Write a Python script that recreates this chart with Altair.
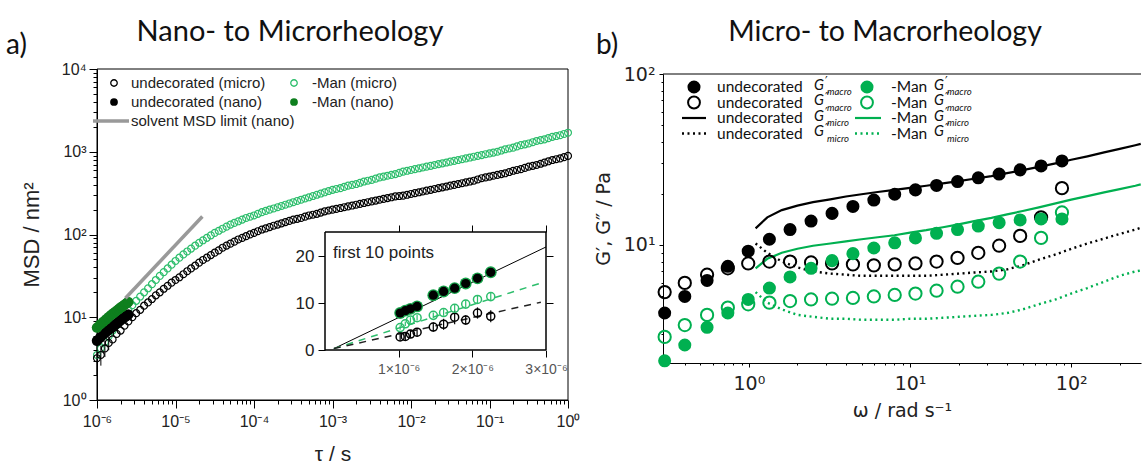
import altair as alt
import pandas as pd

# ---------------- panel a) : MSD vs lag time ----------------
TAU_MICRO = [
    1.00e-6, 1.12e-6, 1.26e-6, 1.41e-6, 1.58e-6, 1.78e-6, 2.00e-6, 2.24e-6, 2.51e-6, 2.82e-6,
    3.16e-6, 3.55e-6, 3.98e-6, 4.47e-6, 5.01e-6, 5.62e-6, 6.31e-6, 7.08e-6, 7.94e-6, 8.91e-6,
    1.00e-5, 1.12e-5, 1.26e-5, 1.41e-5, 1.58e-5, 1.78e-5, 2.00e-5, 2.24e-5, 2.51e-5, 2.82e-5,
    3.16e-5, 3.55e-5, 3.98e-5, 4.47e-5, 5.01e-5, 5.62e-5, 6.31e-5, 7.08e-5, 7.94e-5, 8.91e-5,
    1.00e-4, 1.12e-4, 1.26e-4, 1.41e-4, 1.58e-4, 1.78e-4, 2.00e-4, 2.24e-4, 2.51e-4, 2.82e-4,
    3.16e-4, 3.55e-4, 3.98e-4, 4.47e-4, 5.01e-4, 5.62e-4, 6.31e-4, 7.08e-4, 7.94e-4, 8.91e-4,
    1.00e-3, 1.12e-3, 1.26e-3, 1.41e-3, 1.58e-3, 1.78e-3, 2.00e-3, 2.24e-3, 2.51e-3, 2.82e-3,
    3.16e-3, 3.55e-3, 3.98e-3, 4.47e-3, 5.01e-3, 5.62e-3, 6.31e-3, 7.08e-3, 7.94e-3, 8.91e-3,
    1.00e-2, 1.12e-2, 1.26e-2, 1.41e-2, 1.58e-2, 1.78e-2, 2.00e-2, 2.24e-2, 2.51e-2, 2.82e-2,
    3.16e-2, 3.55e-2, 3.98e-2, 4.47e-2, 5.01e-2, 5.62e-2, 6.31e-2, 7.08e-2, 7.94e-2, 8.91e-2,
    1.00e-1, 1.12e-1, 1.26e-1, 1.41e-1, 1.58e-1, 1.78e-1, 2.00e-1, 2.24e-1, 2.51e-1, 2.82e-1,
    3.16e-1, 3.55e-1, 3.98e-1, 4.47e-1, 5.01e-1, 5.62e-1, 6.31e-1, 7.08e-1, 7.94e-1, 8.91e-1,
    1.00,
]
MSD_MICRO_UNDECORATED = [
    3.2, 3.5, 4.2, 4.9, 5.4, 6.3, 6.9, 7.9, 8.9, 10.0,
    11.2, 12.3, 13.8, 15.1, 16.6, 18.4, 20.0, 22.1, 24.0, 26.2,
    28.2, 30.4, 33.1, 36.0, 38.9, 42.0, 45.7, 49.2, 52.5, 56.4,
    60.3, 64.3, 69.2, 73.5, 77.6, 82.0, 87.1, 91.0, 95.5, 100.2,
    104.7, 109.5, 114.8, 118.6, 123.0, 127.7, 131.8, 136.4, 141.3, 146.2,
    151.4, 154.6, 158.5, 164.3, 169.8, 173.5, 177.8, 184.0, 190.5, 195.0,
    199.5, 204.0, 208.9, 213.8, 218.8, 224.0, 229.1, 234.5, 239.9, 245.5,
    251.2, 257.0, 263.0, 269.2, 275.4, 281.8, 288.4, 291.7, 295.1, 302.0,
    309.0, 316.2, 323.6, 331.1, 338.8, 346.7, 354.8, 363.1, 371.5, 380.2,
    389.0, 398.1, 407.4, 416.9, 426.6, 436.5, 446.7, 462.3, 478.6, 489.8,
    501.2, 512.9, 524.8, 537.0, 549.5, 568.9, 588.8, 602.6, 616.6, 638.3,
    660.7, 676.1, 691.8, 716.1, 741.3, 767.4, 794.3, 812.8, 831.8, 861.0,
    891.3,
]
MSD_MICRO_MAN = [
    3.5, 4.2, 5.0, 5.9, 6.9, 8.0, 9.3, 10.8, 12.3, 14.0,
    15.8, 17.8, 20.0, 22.4, 25.1, 28.2, 31.6, 35.1, 38.9, 43.2,
    47.9, 52.5, 57.5, 62.4, 67.6, 73.3, 79.4, 85.1, 91.2, 97.7,
    104.7, 110.9, 117.5, 124.5, 131.8, 138.0, 144.5, 151.4, 158.5, 164.1,
    169.8, 177.8, 186.2, 192.8, 199.5, 206.5, 213.8, 221.3, 229.1, 237.1,
    245.5, 254.1, 263.0, 272.3, 281.8, 291.7, 302.0, 312.6, 323.6, 335.0,
    346.7, 354.8, 363.1, 375.8, 389.0, 398.1, 407.4, 421.7, 436.5, 446.7,
    457.1, 473.2, 489.8, 501.2, 512.9, 524.8, 537.0, 555.9, 575.4, 588.8,
    602.6, 616.6, 631.0, 645.7, 660.7, 676.1, 691.8, 707.9, 724.4, 741.3,
    758.6, 776.2, 794.3, 812.8, 831.8, 851.1, 871.0, 891.3, 912.0, 933.3,
    955.0, 977.2, 1000.0, 1035.0, 1072.0, 1096.0, 1122.0, 1161.0, 1202.0, 1230.0,
    1259.0, 1303.0, 1349.0, 1380.0, 1413.0, 1462.0, 1514.0, 1549.0, 1585.0, 1641.0,
    1698.0,
]
ERR_TAU = [1.00e-6, 1.12e-6, 1.26e-6, 1.41e-6]
ERR_LO = [2.0, 2.6, 3.3, 4.0]
ERR_HI = [4.6, 4.5, 5.2, 5.8]

TAU_NANO = [1.0e-6, 1.1e-6, 1.2e-6, 1.3e-6, 1.4e-6, 1.5e-6, 1.6e-6, 1.7e-6,
            1.8e-6, 1.9e-6, 2.0e-6, 2.1e-6, 2.2e-6, 2.3e-6, 2.4e-6, 2.5e-6]
MSD_NANO_UNDECORATED = [5.2, 5.7, 6.2, 6.6, 7.0, 7.4, 7.8, 8.2, 8.5, 8.9, 9.2, 9.6, 9.9, 10.2, 10.5, 10.8]
MSD_NANO_MAN = [7.5, 8.2, 8.8, 9.4, 10.0, 10.6, 11.1, 11.6, 12.1, 12.6, 13.1, 13.5, 14.0, 14.4, 14.9, 15.3]

SOLVENT_TAU = [2.3e-6, 2.2e-5]
SOLVENT_MSD = [17.0, 165.0]

# inset "first 10 points"
INSET_TAU = [1.02e-6, 1.09e-6, 1.16e-6, 1.25e-6, 1.47e-6, 1.61e-6, 1.76e-6, 1.91e-6, 2.07e-6, 2.25e-6]
INSET_NANO = [7.9, 8.4, 8.8, 9.3, 11.7, 12.5, 13.2, 14.2, 15.3, 16.6]
INSET_MICRO_UNDEC = [2.8, 2.9, 3.4, 3.8, 4.9, 5.5, 7.0, 6.4, 7.9, 7.2]
INSET_MICRO_UNDEC_ERR = [0.8, 0.9, 0.8, 0.9, 1.0, 1.2, 1.5, 1.0, 1.2, 1.3]
INSET_MICRO_MAN = [4.8, 5.6, 6.4, 6.9, 7.4, 8.0, 8.9, 9.8, 10.8, 11.4]
INSET_MICRO_MAN_ERR = [0.5, 0.5, 0.6, 0.6, 0.6, 0.7, 0.7, 0.8, 0.8, 0.8]
FIT_TAU = [0.12e-6, 3.0e-6]
FIT_NANO = [0.3, 22.0]
FIT_TAU_DASH = [0.12e-6, 2.93e-6]
FIT_MICRO_MAN = [0.3, 14.3]
FIT_MICRO_UNDEC = [0.3, 10.2]

# ---------------- panel b) : G', G'' vs omega ----------------
OMEGA_MACRO = [0.30, 0.40, 0.55, 0.74, 0.99, 1.34, 1.80, 2.43, 3.28, 4.42,
               5.96, 8.03, 10.8, 14.6, 19.7, 26.5, 35.7, 48.2, 65.0, 87.6]
GP_MACRO_UNDEC = [4.0, 5.0, 6.2, 7.5, 9.2, 10.8, 12.3, 13.8, 15.3, 16.8,
                  18.3, 19.8, 21.0, 22.3, 23.5, 24.7, 26.0, 27.5, 29.0, 31.0]
GPP_MACRO_UNDEC = [5.3, 6.0, 6.7, 7.3, 7.8, 8.0, 8.0, 7.9, 7.8, 7.7,
                   7.6, 7.7, 7.8, 8.0, 8.4, 9.0, 9.9, 11.3, 14.5, 21.5]
GP_MACRO_MAN = [2.1, 2.6, 3.3, 4.0, 4.8, 5.6, 6.5, 7.3, 8.1, 8.9,
                9.6, 10.3, 11.0, 11.7, 12.3, 12.9, 13.5, 14.0, 14.2, 14.2]
GPP_MACRO_MAN = [2.9, 3.4, 3.9, 4.3, 4.5, 4.6, 4.7, 4.8, 4.85, 4.9,
                 5.0, 5.1, 5.2, 5.4, 5.7, 6.1, 6.8, 8.0, 11.0, 15.5]

OMEGA_MICRO = [1.1, 1.3, 1.6, 2.0, 2.5, 3.2, 4.0, 5.0, 6.3, 8.0, 10.0, 12.6, 16.0,
               20.0, 25.0, 32.0, 40.0, 50.0, 63.0, 80.0, 100.0, 126.0, 160.0, 200.0, 250.0, 270.0]
GP_MICRO_UNDEC = [12.5, 14.5, 16.0, 17.0, 17.8, 18.5, 19.2, 19.8, 20.4, 21.0, 21.6, 22.2, 22.9,
                  23.6, 24.4, 25.3, 26.3, 27.4, 28.6, 30.0, 31.5, 33.0, 34.8, 36.5, 38.3, 39.0]
GP_MICRO_MAN = [7.3, 8.3, 9.0, 9.5, 9.9, 10.2, 10.5, 10.8, 11.1, 11.4, 11.8, 12.2, 12.7,
                13.2, 13.8, 14.4, 15.1, 15.8, 16.6, 17.5, 18.4, 19.3, 20.3, 21.2, 22.2, 22.6]
GPP_MICRO_UNDEC = [10.2, 9.0, 8.0, 7.4, 7.0, 6.8, 6.7, 6.6, 6.6, 6.6, 6.6, 6.6, 6.7,
                   6.8, 6.9, 7.0, 7.2, 7.6, 8.2, 8.8, 9.5, 10.2, 10.9, 11.6, 12.3, 12.6]
GPP_MICRO_MAN = [5.3, 4.6, 4.2, 3.9, 3.8, 3.7, 3.7, 3.65, 3.65, 3.65, 3.7, 3.7, 3.75,
                 3.8, 3.85, 3.9, 4.0, 4.2, 4.5, 4.8, 5.2, 5.6, 6.1, 6.6, 7.0, 7.1]

# ---------------- layout (canvas pixels) ----------------
W, H = 1142, 468
LX0, LX1, LY0, LY1 = 97, 568, 400, 69      # panel a plot area
IX0, IX1, IY0, IY1 = 325, 546, 350, 232    # inset
RX0, RX1, RY0, RY1 = 663, 1141, 363, 74    # panel b plot area

FA = "Liberation Sans"
FM = "DejaVu Sans"
FT = "Lato"
GREEN_OPEN = "#2DBE6C"
GREEN_DARK = "#0E7F1E"
GREEN_B = "#00B050"

SUP = str.maketrans("-0123456789", "⁻⁰¹²³⁴⁵⁶⁷⁸⁹")


def pow10(e):
    return "10" + str(e).translate(SUP)


def log_label_expr(exps):
    s = ""
    for e in exps:
        s += f"abs(log(datum.value)/LN10 - ({e})) < 0.01 ? '{pow10(e)}' : "
    return s + "''"


MAJOR_TEST = "abs(log(datum.value)/LN10 - round(log(datum.value)/LN10)) < 0.01"


def log_ticks(e0, e1, lo, hi):
    out = []
    for e in range(e0, e1 + 1):
        for m in range(1, 10):
            v = m * 10.0 ** e
            if lo * 0.999 <= v <= hi * 1.001:
                out.append(v)
    return out


def cond_tick(major, minor):
    return {"condition": {"test": MAJOR_TEST, "value": major}, "value": minor}


BASE_AX = dict(grid=False, labelOverlap=False, labelFlush=False, tickColor="black",
               domainColor="black", tickWidth=1)

# panel a scales / axes
SX_A = alt.Scale(type="log", domain=[1e-6, 1.0], range=[LX0, LX1], nice=False)
SY_A = alt.Scale(type="log", domain=[1.0, 1e4], range=[LY0, LY1], nice=False)
AX_A = alt.Axis(orient="bottom", offset=LY0 - H, values=log_ticks(-6, 0, 1e-6, 1.0),
                labelExpr=log_label_expr(range(-6, 1)), tickSize=cond_tick(8, 4),
                labelFont=FA, labelFontSize=16, labelColor="#222", labelPadding=5,
                title="τ / s", titleFont=FA, titleFontSize=21, titleFontWeight="normal",
                titleColor="#222", titlePadding=14, **BASE_AX)
AY_A = alt.Axis(orient="left", offset=-LX0, values=log_ticks(0, 4, 1.0, 1e4),
                labelExpr=log_label_expr(range(0, 5)), tickSize=cond_tick(8, 4),
                labelFont=FA, labelFontSize=16, labelColor="#222", labelPadding=3,
                title="MSD / nm²", titleFont=FA, titleFontSize=22, titleFontWeight="normal",
                titleColor="#222", titlePadding=18, **BASE_AX)


def enc_a(xf, yf):
    return dict(x=alt.X(xf, type="quantitative", scale=SX_A, axis=AX_A),
                y=alt.Y(yf, type="quantitative", scale=SY_A, axis=AY_A))


df_micro = pd.DataFrame({"tau": TAU_MICRO, "undec": MSD_MICRO_UNDECORATED, "man": MSD_MICRO_MAN})
df_nano = pd.DataFrame({"tau": TAU_NANO, "undec": MSD_NANO_UNDECORATED, "man": MSD_NANO_MAN})
df_err = pd.DataFrame({"tau": ERR_TAU, "lo": ERR_LO, "hi": ERR_HI})
df_solv = pd.DataFrame({"tau": SOLVENT_TAU, "msd": SOLVENT_MSD})
df_frame_a = pd.DataFrame({"x0": [1e-6], "x1": [1.0], "y0": [1.0], "y1": [1e4]})

frame_a = alt.Chart(df_frame_a).mark_rect(fill="transparent", stroke="black", strokeWidth=1).encode(
    x2="x1:Q", y2="y1:Q", **enc_a("x0", "y0"))
solvent = alt.Chart(df_solv).mark_line(color="#999999", strokeWidth=3.5).encode(**enc_a("tau", "msd"))
err_a = alt.Chart(df_err).mark_rule(color="black", strokeWidth=1).encode(y2="hi:Q", **enc_a("tau", "lo"))
micro_man = alt.Chart(df_micro).mark_point(shape="circle", filled=False, color=GREEN_OPEN, size=48,
                                            strokeWidth=1.2, opacity=1).encode(**enc_a("tau", "man"))
micro_undec = alt.Chart(df_micro).mark_point(shape="circle", filled=False, color="black", size=48,
                                              strokeWidth=1.2, opacity=1).encode(**enc_a("tau", "undec"))
nano_undec = alt.Chart(df_nano).mark_point(shape="circle", filled=True, color="black", size=110,
                                            opacity=1).encode(**enc_a("tau", "undec"))
nano_man = alt.Chart(df_nano).mark_point(shape="circle", filled=True, color=GREEN_DARK, size=110,
                                          opacity=1).encode(**enc_a("tau", "man"))
panel_a = alt.layer(frame_a, micro_man, micro_undec, err_a, nano_undec, nano_man, solvent)

# inset scales / axes
SX_I = alt.Scale(type="linear", domain=[0.0, 3e-6], range=[IX0, IX1], nice=False, zero=False)
SY_I = alt.Scale(type="linear", domain=[0.0, 25.2], range=[IY0, IY1], nice=False, zero=False)
AX_I = alt.Axis(orient="bottom", offset=IY0 - H, values=[1e-6, 2e-6, 3e-6],
                labelExpr="format(datum.value*1000000, '.0f') + '×10⁻⁶'", tickSize=7,
                labelFont=FA, labelFontSize=14, labelColor="#555", labelPadding=5, domain=False,
                title=None, grid=False, labelOverlap=False, labelFlush=False, tickColor="black")
AY_I = alt.Axis(orient="left", offset=-IX0, values=[0, 10, 20], tickSize=7,
                labelFont=FA, labelFontSize=17, labelColor="#222", labelPadding=4, domain=False,
                title=None, grid=False, labelOverlap=False, tickColor="black")
AX_I2 = alt.Axis(orient="top", offset=-IY1, values=[1e-6, 2e-6, 3e-6], tickSize=7, labels=False,
                 domain=False, title=None, grid=False, tickColor="black")
AY_I2 = alt.Axis(orient="right", offset=IX1 - W, values=[10, 20], tickSize=7, labels=False,
                 domain=False, title=None, grid=False, tickColor="black")


def enc_i(xf, yf):
    return dict(x=alt.X(xf, type="quantitative", scale=SX_I, axis=AX_I),
                y=alt.Y(yf, type="quantitative", scale=SY_I, axis=AY_I))


df_inset = pd.DataFrame({
    "tau": INSET_TAU, "nano": INSET_NANO,
    "undec": INSET_MICRO_UNDEC, "undec_err": INSET_MICRO_UNDEC_ERR,
    "man": INSET_MICRO_MAN, "man_err": INSET_MICRO_MAN_ERR,
})
df_fit = pd.DataFrame({"tau": FIT_TAU, "nano": FIT_NANO})
df_fit_d = pd.DataFrame({"tau": FIT_TAU_DASH, "man": FIT_MICRO_MAN, "undec": FIT_MICRO_UNDEC})
df_frame_i = pd.DataFrame({"x0": [0.0], "x1": [3e-6], "y0": [0.0], "y1": [25.2]})

frame_i = alt.Chart(df_frame_i).mark_rect(fill="white", stroke="black", strokeWidth=1).encode(
    x2="x1:Q", y2="y1:Q", **enc_i("x0", "y0"))
fit_nano = alt.Chart(df_fit).mark_line(color="black", strokeWidth=1).encode(**enc_i("tau", "nano"))
fit_man = alt.Chart(df_fit_d).mark_line(color=GREEN_OPEN, strokeWidth=1.5, strokeDash=[7, 6]).encode(
    **enc_i("tau", "man"))
fit_undec = alt.Chart(df_fit_d).mark_line(color="#222", strokeWidth=1.5, strokeDash=[7, 6]).encode(
    **enc_i("tau", "undec"))
err_i_u = alt.Chart(df_inset).transform_calculate(
    lo="datum.undec - datum.undec_err", hi="datum.undec + datum.undec_err"
).mark_rule(color="black", strokeWidth=1.2).encode(y2="hi:Q", **enc_i("tau", "lo"))
err_i_m = alt.Chart(df_inset).transform_calculate(
    lo="datum.man - datum.man_err", hi="datum.man + datum.man_err"
).mark_rule(color=GREEN_OPEN, strokeWidth=1.2).encode(y2="hi:Q", **enc_i("tau", "lo"))
pts_i_u = alt.Chart(df_inset).mark_point(shape="circle", filled=False, color="black", size=65,
                                          strokeWidth=1.5, opacity=1).encode(**enc_i("tau", "undec"))
pts_i_m = alt.Chart(df_inset).mark_point(shape="circle", filled=False, color=GREEN_OPEN, size=65,
                                          strokeWidth=1.5, opacity=1).encode(**enc_i("tau", "man"))
pts_i_ng = alt.Chart(df_inset).mark_point(shape="circle", filled=True, color="#17A34A", size=140,
                                           opacity=1).encode(**enc_i("tau", "nano"))
pts_i_nb = alt.Chart(df_inset).mark_point(shape="circle", filled=True, color="black", size=85,
                                           opacity=1).encode(**enc_i("tau", "nano"))
inset_a = alt.layer(frame_i, fit_nano, fit_man, fit_undec, err_i_u, err_i_m, pts_i_u, pts_i_m,
                    pts_i_ng, pts_i_nb)
inset_b = alt.Chart(df_frame_i).mark_rect(fill="transparent", stroke="black", strokeWidth=1).encode(
    x=alt.X("x0:Q", scale=SX_I, axis=AX_I2), x2="x1:Q",
    y=alt.Y("y0:Q", scale=SY_I, axis=AY_I2), y2="y1:Q")

# panel b scales / axes
SX_B = alt.Scale(type="log", domain=[0.293, 271.0], range=[RX0, RX1], nice=False)
SY_B = alt.Scale(type="log", domain=[2.04, 100.0], range=[RY0, RY1], nice=False)
AX_B = alt.Axis(orient="bottom", offset=RY0 - H, values=log_ticks(-1, 2, 0.293, 271.0),
                labelExpr=log_label_expr(range(0, 3)), tickSize=cond_tick(4, 2),
                labelFont=FM, labelFontSize=19, labelColor="#222", labelPadding=7,
                title="ω / rad s⁻¹", titleFont=FM, titleFontSize=19, titleFontWeight="normal",
                titleColor="#222", titlePadding=8, **BASE_AX)
AY_B = alt.Axis(orient="left", offset=-RX0, values=log_ticks(0, 2, 2.04, 100.0),
                labelExpr=log_label_expr(range(1, 3)), tickSize=cond_tick(4, 2),
                labelFont=FM, labelFontSize=19, labelColor="#222", labelPadding=4,
                title="G′, G″ / Pa", titleFont=FM, titleFontSize=19, titleFontWeight="normal",
                titleColor="#222", titlePadding=10, **BASE_AX)


def enc_b(xf, yf):
    return dict(x=alt.X(xf, type="quantitative", scale=SX_B, axis=AX_B),
                y=alt.Y(yf, type="quantitative", scale=SY_B, axis=AY_B))


df_macro = pd.DataFrame({"w": OMEGA_MACRO, "gp_u": GP_MACRO_UNDEC, "gpp_u": GPP_MACRO_UNDEC,
                         "gp_m": GP_MACRO_MAN, "gpp_m": GPP_MACRO_MAN})
df_micro_b = pd.DataFrame({"w": OMEGA_MICRO, "gp_u": GP_MICRO_UNDEC, "gpp_u": GPP_MICRO_UNDEC,
                           "gp_m": GP_MICRO_MAN, "gpp_m": GPP_MICRO_MAN})
df_top_b = pd.DataFrame({"x0": [0.293], "x1": [271.0], "y0": [100.0]})

top_b = alt.Chart(df_top_b).mark_rule(color="black", strokeWidth=1).encode(x2="x1:Q", **enc_b("x0", "y0"))
ln_gp_u = alt.Chart(df_micro_b).mark_line(color="black", strokeWidth=2.2).encode(**enc_b("w", "gp_u"))
ln_gp_m = alt.Chart(df_micro_b).mark_line(color=GREEN_B, strokeWidth=2.2).encode(**enc_b("w", "gp_m"))
ln_gpp_u = alt.Chart(df_micro_b).mark_line(color="black", strokeWidth=2.4, strokeDash=[2, 3.5]).encode(
    **enc_b("w", "gpp_u"))
ln_gpp_m = alt.Chart(df_micro_b).mark_line(color=GREEN_B, strokeWidth=2.4, strokeDash=[2, 3.5]).encode(
    **enc_b("w", "gpp_m"))
pt_gp_u = alt.Chart(df_macro).mark_point(shape="circle", filled=True, color="black", size=170,
                                          opacity=1).encode(**enc_b("w", "gp_u"))
pt_gpp_u = alt.Chart(df_macro).mark_point(shape="circle", filled=False, color="black", size=150,
                                           strokeWidth=2, opacity=1).encode(**enc_b("w", "gpp_u"))
pt_gp_m = alt.Chart(df_macro).mark_point(shape="circle", filled=True, color=GREEN_B, size=170,
                                          opacity=1).encode(**enc_b("w", "gp_m"))
pt_gpp_m = alt.Chart(df_macro).mark_point(shape="circle", filled=False, color=GREEN_B, size=150,
                                           strokeWidth=2, opacity=1).encode(**enc_b("w", "gpp_m"))
panel_b = alt.layer(top_b, ln_gpp_u, ln_gpp_m, ln_gp_u, ln_gp_m, pt_gpp_u, pt_gp_u, pt_gpp_m, pt_gp_m)

# ---------------- annotations (titles, legends) ----------------
ONE = pd.DataFrame({"k": [0]})


def txt(x, y, s, size, font, color="#111", style="normal", align="left", baseline="middle"):
    return alt.Chart(ONE).mark_text(text=s, font=font, fontSize=size, color=color, fontStyle=style,
                                    align=align, baseline=baseline).encode(x=alt.value(x), y=alt.value(y))


def dot(x, y, color, filled, size, sw=1.5):
    return alt.Chart(ONE).mark_point(shape="circle", filled=filled, color=color, size=size,
                                     strokeWidth=sw, opacity=1).encode(x=alt.value(x), y=alt.value(y))


def seg(x1, x2, y, color, width, dash=None):
    kw = dict(color=color, strokeWidth=width)
    if dash:
        kw["strokeDash"] = dash
    return alt.Chart(ONE).mark_rule(**kw).encode(x=alt.value(x1), x2=alt.value(x2), y=alt.value(y))


ann = [
    txt(6, 46, "a)", 28, FT),
    txt(290, 32, "Nano- to Microrheology", 29, FT, align="center"),
    txt(596, 46, "b)", 28, FT),
    txt(885, 32, "Micro- to Macrorheology", 28.5, FT, align="center"),
    txt(333, 253, "first 10 points", 17, FA, color="#222"),
]

# legend a
LA_ROWS = [83, 102, 121]
ann += [
    dot(114, LA_ROWS[0], "black", False, 42, 1.3),
    txt(131, LA_ROWS[0], "undecorated (micro)", 15, FA, color="#222"),
    dot(294, LA_ROWS[0], GREEN_OPEN, False, 42, 1.3),
    txt(312, LA_ROWS[0], "-Man (micro)", 15, FA, color="#222"),
    dot(114, LA_ROWS[1], "black", True, 60),
    txt(131, LA_ROWS[1], "undecorated (nano)", 15, FA, color="#222"),
    dot(294, LA_ROWS[1], GREEN_DARK, True, 60),
    txt(312, LA_ROWS[1], "-Man (nano)", 15, FA, color="#222"),
    seg(93, 129, LA_ROWS[2], "#999999", 3.5),
    txt(131, LA_ROWS[2], "solvent MSD limit (nano)", 15, FA, color="#222"),
]

# legend b
LB_ROWS = [87, 102.5, 118, 133.5]
C1_SYM, C1_TXT, C1_G = 694, 717, 814
C2_SYM, C2_TXT, C2_G = 867, 891, 934
ann += [
    dot(C1_SYM, LB_ROWS[0], "black", True, 170),
    dot(C2_SYM, LB_ROWS[0], GREEN_B, True, 170),
    dot(C1_SYM, LB_ROWS[1], "black", False, 140, 2),
    dot(C2_SYM, LB_ROWS[1], GREEN_B, False, 140, 2),
    seg(682, 706, LB_ROWS[2], "black", 2.2),
    seg(855, 881, LB_ROWS[2], GREEN_B, 2.2),
    seg(682, 706, LB_ROWS[3], "black", 2.4, [2, 3.5]),
    seg(855, 881, LB_ROWS[3], GREEN_B, 2.4, [2, 3.5]),
]
for i, (prime, sub) in enumerate([("′", "macro"), ("″", "macro"), ("′", "micro"), ("″", "micro")]):
    y = LB_ROWS[i]
    for x_txt, word, x_g in [(C1_TXT, "undecorated", C1_G), (C2_TXT, "-Man", C2_G)]:
        ann += [
            txt(x_txt, y, word, 15.5, FT),
            txt(x_g, y - 1.5, "G", 14.5, FT, style="italic"),
            txt(x_g + 11, y - 6, prime, 12, FM),
            txt(x_g + 13, y + 5, sub, 9.5, FT, style="italic"),
        ]

chart = alt.layer(panel_a, inset_a, inset_b, panel_b, *ann).resolve_scale(
    x="independent", y="independent"
).properties(
    width=W, height=H, padding=0, background="white",
    autosize=alt.AutoSizeParams(type="none"),
).configure_view(strokeWidth=0)

chart.save("out.html", embed_options={"renderer": "svg", "actions": False})
